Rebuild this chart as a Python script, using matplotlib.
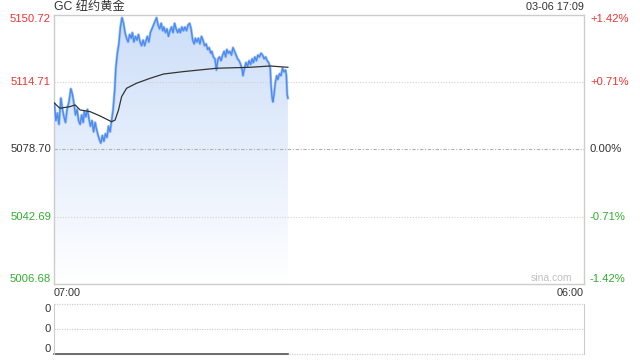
import numpy as np
import matplotlib
matplotlib.use("Agg")
import matplotlib.pyplot as plt
from matplotlib.transforms import blended_transform_factory

plt.rcParams["font.family"] = ["Liberation Sans", "Noto Sans CJK SC", "DejaVu Sans"]

# minutes after 07:00, price of GC (New York gold)
minutes = [1, 5, 9, 13, 18, 22, 26, 30, 34, 39, 44, 48, 52, 56, 60, 64, 68, 72, 76, 79,
           83, 87, 91, 95, 99, 103, 107, 110, 115, 118, 122, 126, 130, 134, 138, 142, 146, 150, 154, 158,
           161, 165, 169, 173, 177, 181, 185, 189, 193, 197, 201, 204, 208, 212, 216, 220, 224, 228, 232, 236,
           240, 243, 247, 251, 255, 259, 263, 267, 271, 275, 279, 283, 286, 290, 294, 298, 302, 306, 310, 314,
           318, 322, 326, 329, 333, 337, 341, 345, 349, 353, 357, 361, 365, 368, 372, 376, 380, 384, 388, 392,
           396, 400, 404, 408, 411, 415, 419, 423, 427, 431, 435, 439, 443, 447, 450, 454, 458, 462, 466, 470,
           474, 478, 482, 486, 490, 492, 496, 500, 504, 508, 512, 516, 519, 523, 527, 531, 535, 539, 543, 547,
           551, 555, 559, 563, 565, 568, 570, 573, 576, 580, 583, 587, 591, 595, 599, 603, 605, 607, 609]
prices = [5103, 5094, 5098, 5092, 5106, 5100, 5096, 5093, 5100, 5104, 5111, 5108, 5103, 5097, 5100, 5094, 5092, 5097, 5093, 5099,
          5096, 5100, 5095, 5091, 5094, 5088, 5093, 5090, 5086, 5084, 5082, 5086, 5083, 5087, 5085, 5091, 5088, 5094, 5100, 5110,
          5122, 5130, 5135, 5144, 5149, 5146, 5141, 5138, 5136, 5140, 5138, 5141, 5136, 5139, 5137, 5140, 5136, 5134, 5137, 5134,
          5137, 5139, 5136, 5141, 5143, 5145, 5147, 5149, 5145, 5143, 5146, 5142, 5144, 5141, 5143, 5139, 5142, 5144, 5141, 5146,
          5143, 5141, 5143, 5141, 5144, 5142, 5144, 5142, 5145, 5146, 5143, 5137, 5135, 5138, 5136, 5138, 5135, 5139, 5137, 5134,
          5135, 5132, 5133, 5130, 5131, 5128, 5127, 5121, 5127, 5128, 5126, 5129, 5131, 5128, 5132, 5130, 5131, 5129, 5133, 5131,
          5129, 5127, 5126, 5124, 5121, 5118, 5122, 5125, 5123, 5126, 5124, 5127, 5125, 5128, 5126, 5129, 5128, 5130, 5129, 5127,
          5128, 5126, 5125, 5122, 5113, 5106, 5104, 5108, 5114, 5118, 5116, 5119, 5118, 5122, 5120, 5121, 5118, 5108, 5106]

# average price line
avg_minutes = [0, 15, 42, 55, 68, 94, 120, 150, 159, 168, 176, 189, 215, 250, 285, 337, 424, 510, 563, 609]
avg_prices = [5103.6, 5100.6, 5101.5, 5102.4, 5099.7, 5098.8, 5096.5, 5093.4, 5094.3, 5099.7,
              5106.8, 5111.3, 5114.0, 5116.6, 5118.9, 5120.2, 5122.0, 5122.5, 5123.2, 5122.5]

prev_close = 5078.70
price_ticks = [5150.72, 5114.71, 5078.70, 5042.69, 5006.68]
price_labels = ["5150.72", "5114.71", "5078.70", "5042.69", "5006.68"]
pct_labels = ["+1.42%", "+0.71%", "0.00%", "-0.71%", "-1.42%"]
time_labels = ["07:00", "06:00"]
total_minutes = 23 * 60

RED = "#ee3333"
GREEN = "#2fae2f"
DARK = "#333333"
GRID = "#d0d0d0"
FS = 8.1

fig = plt.figure(figsize=(6.4, 3.6), dpi=100)
ax = fig.add_axes([54 / 640, 1 - 284 / 360, 530 / 640, 269.5 / 360])
vax = fig.add_axes([54 / 640, 1 - 354 / 360, 530 / 640, 50 / 360])

lo, hi = price_ticks[-1], price_ticks[0]
ax.set_xlim(0, total_minutes)
ax.set_ylim(lo, hi)

# gradient fill under the price line
poly = ax.fill_between(minutes, prices, lo, facecolor="none", edgecolor="none")
grad = np.linspace(0, 1, 256).reshape(-1, 1)
top = np.array([0.80, 0.87, 0.975])
bot = np.array([1.0, 1.0, 1.0])
img = top * (1 - grad[..., None]) + bot * grad[..., None]
im = ax.imshow(img, extent=[0, minutes[-1], lo, hi], aspect="auto", origin="upper", zorder=1)
im.set_clip_path(poly.get_paths()[0], transform=ax.transData)

ax.plot(minutes, prices, color="#a9c8f7", lw=2.0, zorder=3)
ax.plot(minutes, prices, color="#4d8bf0", lw=1.0, zorder=3)
ax.plot(avg_minutes, avg_prices, color=DARK, lw=0.9, zorder=4)

for p in price_ticks[1:-1]:
    if p == prev_close:
        ax.axhline(p, color="#b0b0b0", lw=0.8, ls=(0, (3, 1.5, 1, 1.5)), zorder=2)
    else:
        ax.axhline(p, color=GRID, lw=0.8, ls=(0, (1, 1.5)), zorder=2)

ax.set_xticks([])
ax.set_yticks([])
for s in ax.spines.values():
    s.set_color("#cccccc")
    s.set_linewidth(1)

trans_l = blended_transform_factory(fig.transFigure, ax.transData)
for i, (p, lab, pct) in enumerate(zip(price_ticks, price_labels, pct_labels)):
    col = RED if p > prev_close else (DARK if p == prev_close else GREEN)
    va = "top" if i == 0 else ("bottom" if i == len(price_ticks) - 1 else "center")
    fig.text(51 / 640, p, lab, transform=trans_l, ha="right", va=va, color=col, fontsize=FS)
    fig.text(590 / 640, p, pct, transform=trans_l, ha="left", va=va, color=col, fontsize=FS)

fig.text(54 / 640, 1 - 7 / 360, "GC 纽约黄金", ha="left", va="center", color=DARK, fontsize=8.8)
fig.text(584 / 640, 1 - 7 / 360, "03-06 17:09", ha="right", va="center", color=DARK, fontsize=7.8)
ax.text(0.978, 0.005, "sina.com", transform=ax.transAxes, ha="right", va="bottom",
        color="#c0c0c0", fontsize=7.5)

fig.text(54 / 640, 1 - 293 / 360, time_labels[0], ha="left", va="center", color=DARK, fontsize=7.8)
fig.text(584 / 640, 1 - 293 / 360, time_labels[1], ha="right", va="center", color=DARK, fontsize=7.8)

# volume panel (all zero)
vax.set_xlim(0, total_minutes)
vax.set_ylim(0, 1)
vax.set_xticks([])
vax.set_yticks([])
for side in ["left", "right"]:
    vax.spines[side].set_color("#cccccc")
for side in ["top", "bottom"]:
    vax.spines[side].set_visible(False)
for yy in [1, 0.5, 0.0]:
    vax.axhline(yy, color=GRID, lw=0.9, ls=(0, (1, 1)), clip_on=False)
vax.plot([0, minutes[-1]], [0.005, 0.005], color="#555555", lw=1.2, clip_on=False)
trans_v = blended_transform_factory(fig.transFigure, vax.transData)
for yy, va in zip([1, 0.5, 0], ["top", "center", "bottom"]):
    fig.text(51 / 640, yy, "0", transform=trans_v, ha="right", va=va, color=DARK, fontsize=FS)

fig.savefig("out.png", dpi=100)
